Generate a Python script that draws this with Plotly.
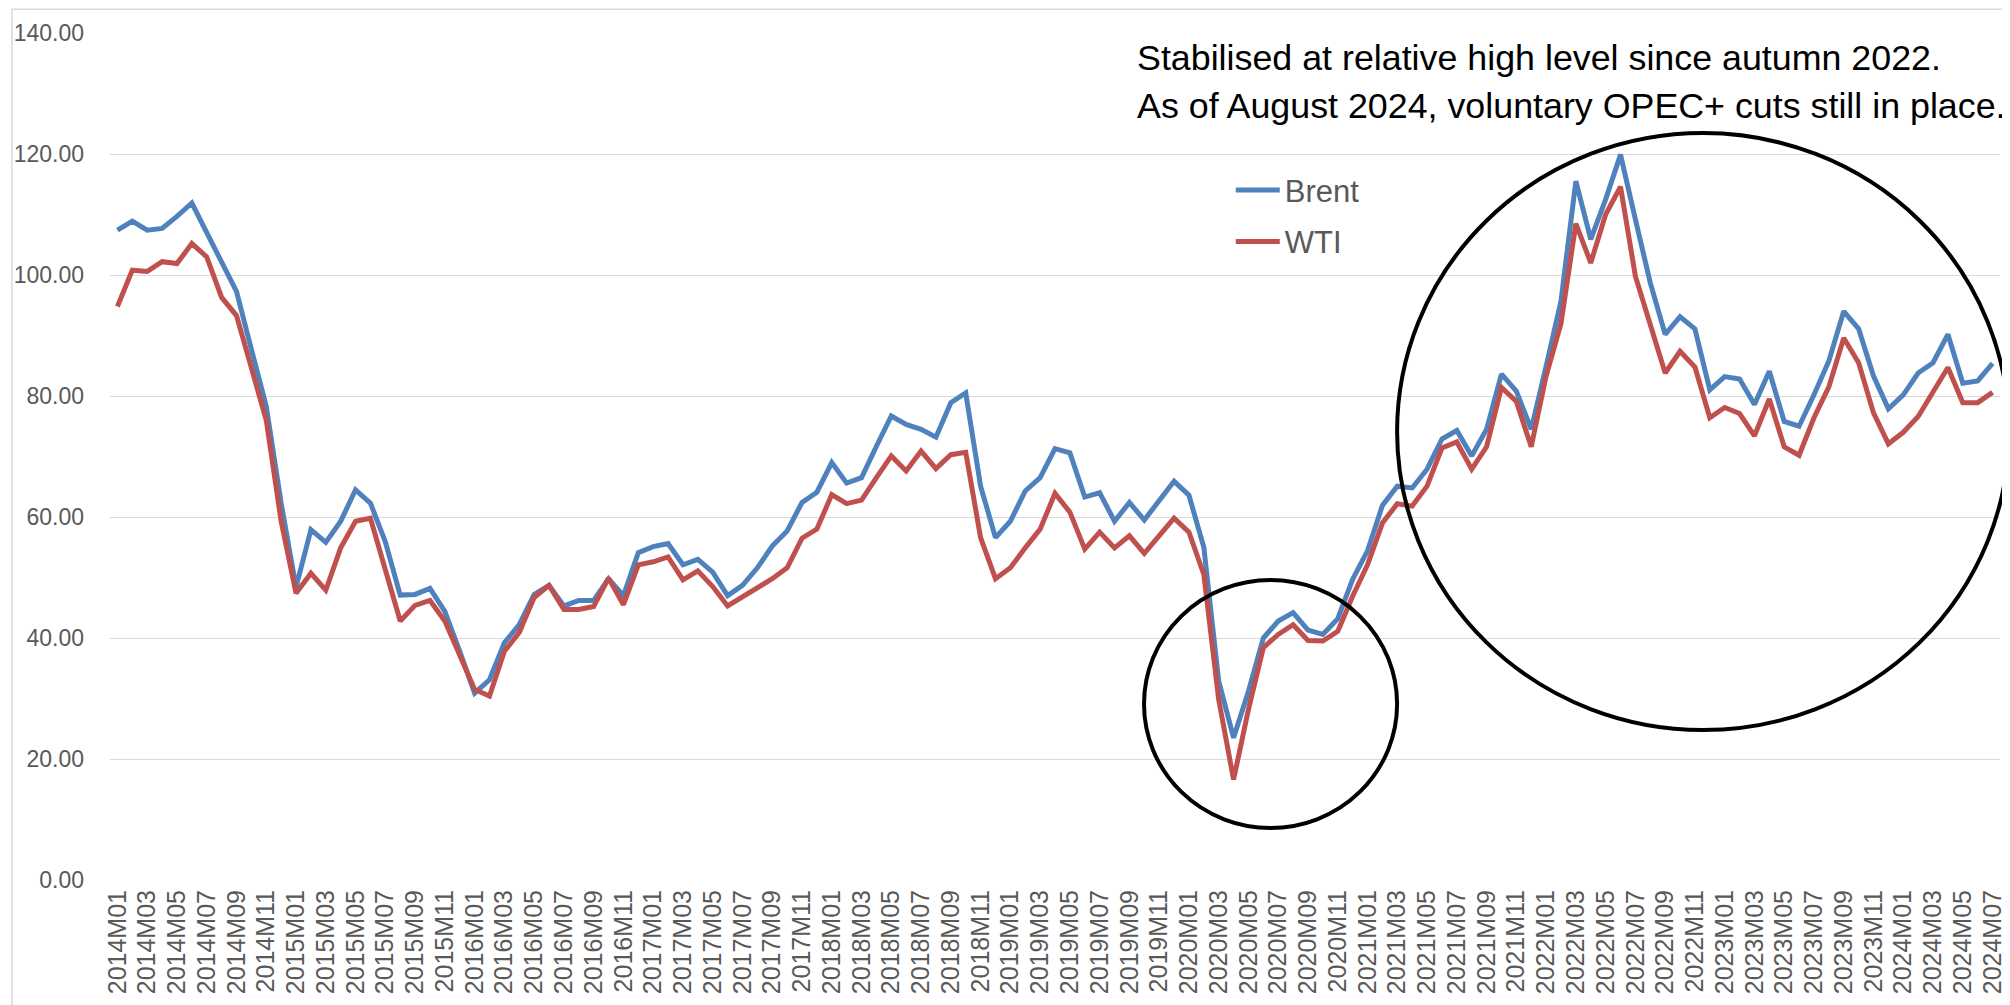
import plotly.graph_objects as go

# monthly categories 2014M01 .. 2024M07
years = list(range(2014, 2025))
months = list(range(1, 13))
categories = [f"{y}M{m:02d}" for y in years for m in months][:127]

brent = [
    107.4, 108.9, 107.4, 107.7, 109.7, 111.9, 107.0, 102.0, 97.3, 87.7, 78.3, 62.3,
    48.4, 57.9, 55.8, 59.3, 64.5, 62.3, 55.9, 47.1, 47.2, 48.2, 44.4, 37.8,
    30.9, 33.1, 39.2, 42.2, 47.2, 48.7, 45.3, 46.2, 46.2, 49.8, 47.0, 54.1,
    55.1, 55.6, 52.1, 53.0, 50.9, 47.0, 48.7, 51.6, 55.2, 57.7, 62.4, 64.1,
    69.0, 65.6, 66.5, 71.7, 76.7, 75.3, 74.5, 73.2, 78.9, 80.5, 65.1, 56.6,
    59.3, 64.3, 66.5, 71.3, 70.6, 63.3, 64.0, 59.3, 62.4, 59.5, 62.8, 65.9,
    63.6, 55.0, 32.9, 23.5, 31.2, 40.0, 42.8, 44.2, 41.3, 40.6, 43.2, 49.7,
    54.4, 61.9, 65.1, 64.8, 67.9, 72.9, 74.3, 70.1, 74.5, 83.6, 80.8, 74.5,
    84.9, 95.7, 115.5, 105.9, 112.5, 119.9, 109.2, 98.7, 90.2, 93.1, 91.1, 81.0,
    83.2, 82.8, 78.6, 84.1, 75.8, 75.0, 80.2, 85.8, 94.0, 91.1, 83.3, 77.9,
    80.2, 83.8, 85.5, 90.2, 82.1, 82.5, 85.4,
]

wti = [
    94.8, 100.8, 100.6, 102.2, 101.9, 105.2, 103.0, 96.3, 93.3, 84.7, 76.0, 59.3,
    47.4, 50.7, 47.9, 54.9, 59.3, 59.8, 51.3, 42.8, 45.4, 46.2, 42.8, 37.3,
    31.5, 30.4, 37.8, 40.9, 46.7, 48.7, 44.7, 44.7, 45.2, 49.9, 45.5, 52.1,
    52.6, 53.4, 49.6, 51.1, 48.5, 45.3, 46.8, 48.1, 49.8, 51.6, 56.5, 58.0,
    63.7, 62.2, 62.8, 66.5, 70.1, 67.6, 70.9, 68.0, 70.3, 70.7, 56.6, 49.8,
    51.6, 54.9, 58.0, 63.9, 60.8, 54.7, 57.5, 54.9, 56.9, 54.0, 56.9, 59.8,
    57.5, 50.5, 29.8, 16.6, 28.2, 38.4, 40.6, 42.2, 39.6, 39.5, 41.1, 46.9,
    52.1, 59.0, 62.2, 61.8, 65.1, 71.4, 72.4, 67.9, 71.6, 81.4, 79.1, 71.6,
    83.3, 92.0, 108.5, 102.0, 110.0, 114.6, 99.8, 91.5, 83.8, 87.4, 84.8, 76.4,
    78.1, 77.1, 73.4, 79.5, 71.6, 70.2, 76.4, 81.5, 89.6, 85.5, 77.2, 72.1,
    74.0, 76.6, 80.6, 84.7, 78.9, 78.9, 80.6,
]

note_lines = [
    "Stabilised at relative high level since autumn 2022.",
    "As of August 2024, voluntary OPEC+ cuts still in place.",
]

idx = list(range(len(categories)))
grey = "#595959"
font_name = "Liberation Sans, Arial"

fig = go.Figure()
fig.add_trace(go.Scatter(x=idx, y=brent, mode="lines", name="Brent", legendgroup="b",
                         line=dict(color="#4F81BD", width=5)))
fig.add_trace(go.Scatter(x=idx, y=wti, mode="lines", name="WTI", legendgroup="w",
                         line=dict(color="#C0504D", width=5)))

fig.update_xaxes(range=[-0.5, len(categories) - 0.5], tickvals=idx[::2],
                 ticktext=categories[::2], tickangle=-90, showgrid=False,
                 zeroline=False, showline=False, ticks="", ticklabelstandoff=4,
                 automargin=False,
                 tickfont=dict(family=font_name, size=25, color=grey))
fig.update_yaxes(range=[0, 140], dtick=20, tickformat=".2f", gridcolor="#D9D9D9",
                 gridwidth=1.3, zeroline=False, showline=False, ticks="",
                 ticklabelstandoff=25, automargin=False,
                 tickfont=dict(family=font_name, size=23, color=grey))

# chart border and the two highlight circles
fig.add_shape(type="rect", xref="paper", yref="paper", x0=-0.0519, x1=1.0064,
              y0=-0.16, y1=1.028, line=dict(color="#D9D9D9", width=1.5))
fig.add_shape(type="circle", xref="paper", yref="paper", x0=0.5471, x1=0.681,
              y0=0.0614, y1=0.3542, line=dict(color="black", width=4))
fig.add_shape(type="circle", xref="paper", yref="paper", x0=0.681, x1=1.0048,
              y0=0.1771, y1=0.8819, line=dict(color="black", width=4))

note_y = [0.9965, 0.9393]
for txt, ny in zip(note_lines, note_y):
    fig.add_annotation(text=txt, xref="paper", yref="paper", x=0.5423,
                       y=ny, xanchor="left", yanchor="top", showarrow=False,
                       font=dict(family=font_name, size=35.8, color="black"))

# page body adds an 8px offset, so the figure is 8px smaller than the window
fig.update_layout(
    width=2002, height=997,
    margin=dict(l=102, r=10, t=25, b=125, autoexpand=False),
    plot_bgcolor="white", paper_bgcolor="white",
    legend=dict(x=0.593, y=0.846, xanchor="left", yanchor="top",
                traceorder="grouped", tracegroupgap=8, itemwidth=44,
                font=dict(family=font_name, size=31, color=grey),
                bgcolor="rgba(0,0,0,0)"),
)

fig.write_html("out.html")
